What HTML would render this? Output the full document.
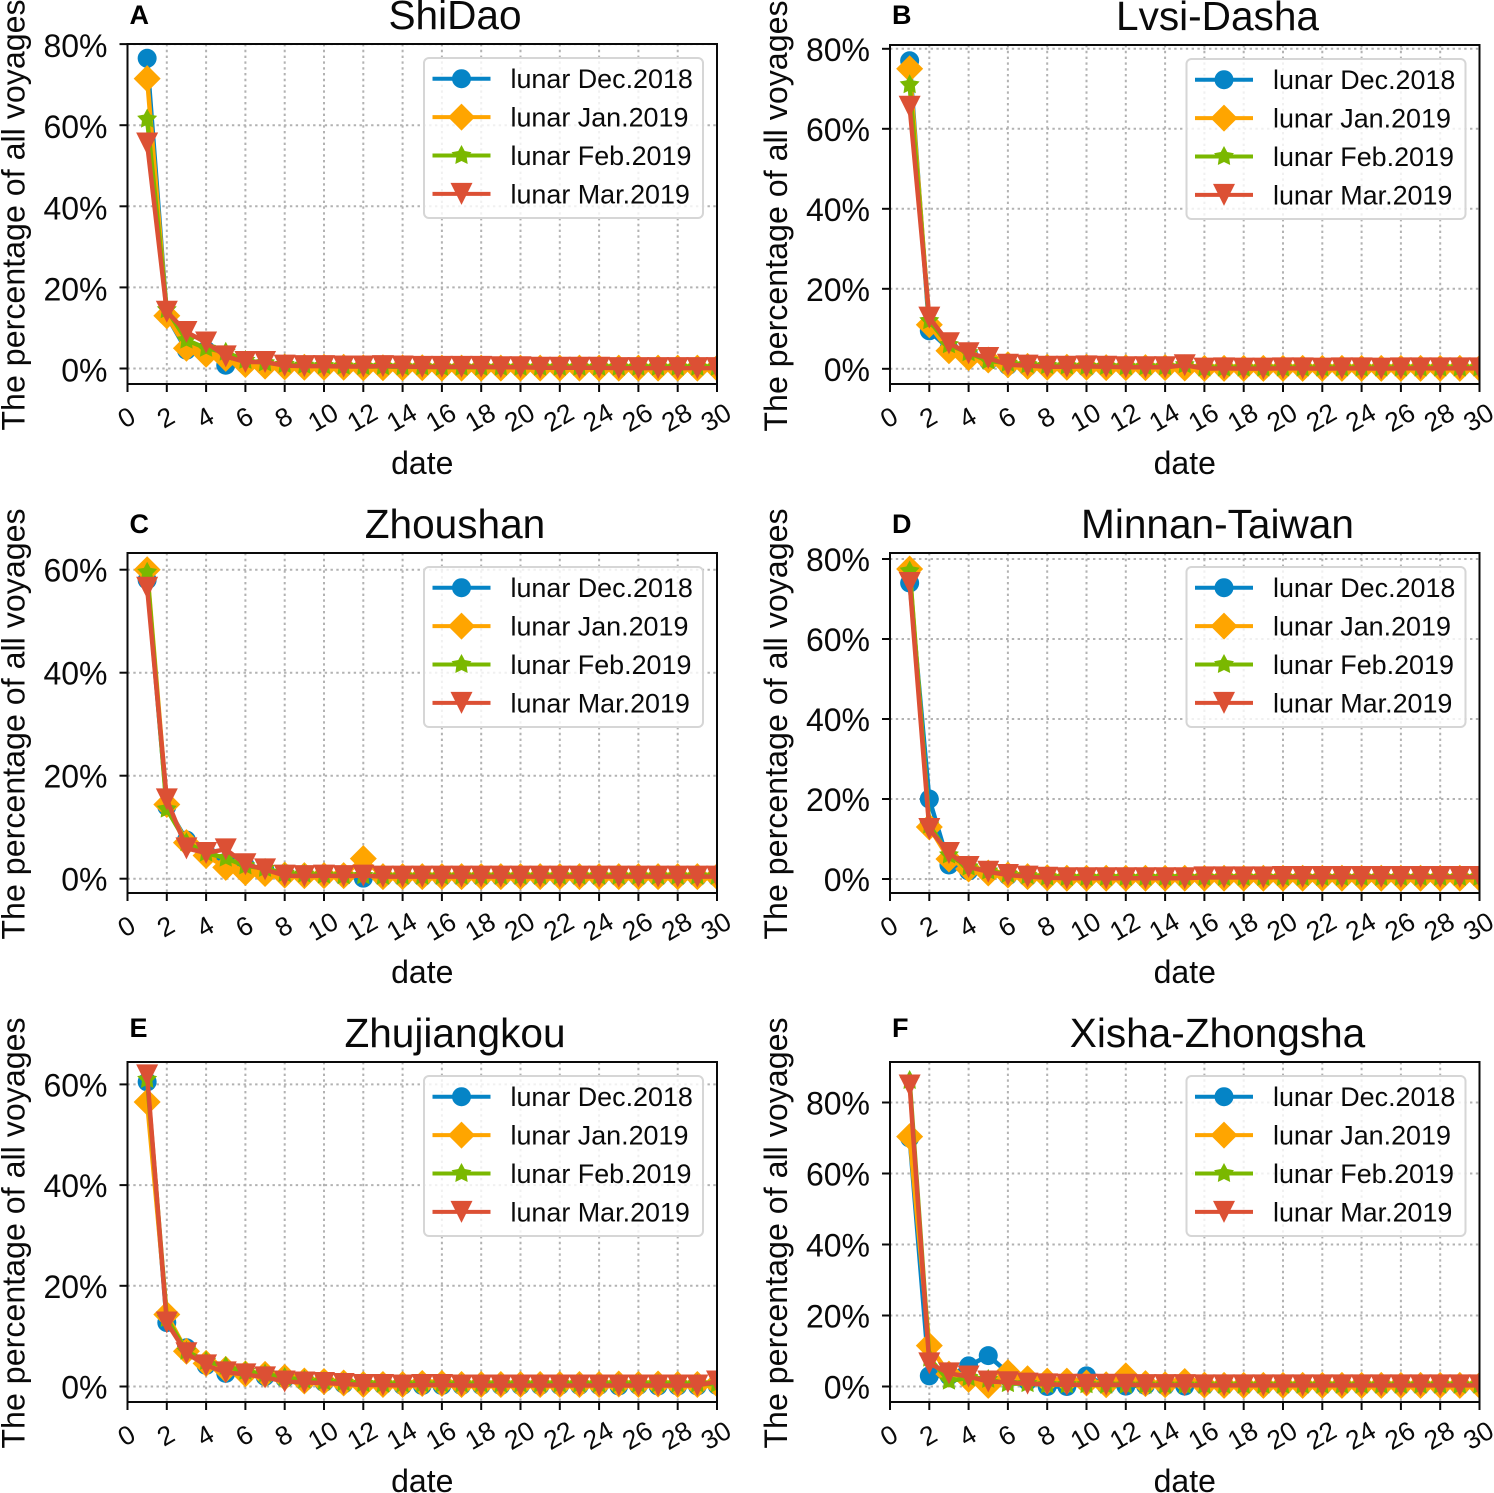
<!DOCTYPE html>
<html lang="en">
<head>
<meta charset="utf-8">
<title>Percentage of voyages by lunar date</title>
<style>
html,body{margin:0;padding:0;background:#fff;width:1494px;height:1493px;overflow:hidden}
svg{display:block;font-family:"Liberation Sans",sans-serif}
</style>
</head>
<body>
<svg id="chart" xmlns="http://www.w3.org/2000/svg" width="1494" height="1493" viewBox="0 0 1494 1493"></svg>
<script>
const days=[1,2,3,4,5,6,7,8,9,10,11,12,13,14,15,16,17,18,19,20,21,22,23,24,25,26,27,28,29,30];
const xTickLabels=[0,2,4,6,8,10,12,14,16,18,20,22,24,26,28,30];
const seriesNames=["lunar Dec.2018","lunar Jan.2019","lunar Feb.2019","lunar Mar.2019"];

const shidaoTicks=[0,20,40,60,80];
const shidaoDec=[76.5,13,4.5,4.5,0.8,1,0.6,0.4,0.3,0.3,0.3,0.2,0.2,0.2,0.2,0.1,0.1,0.1,0.1,0.1,0.1,0.1,0.1,0.1,0.1,0.1,0.1,0.1,0.1,0.1];
const shidaoJan=[71.5,13,5,3.5,2.5,1,0.6,0.4,0.3,0.3,0.3,0.2,0.2,0.2,0.2,0.1,0.1,0.1,0.1,0.1,0.1,0.1,0.1,0.1,0.1,0.1,0.1,0.1,0.1,0.1];
const shidaoFeb=[61.5,14.5,7,5,4,2,1.4,1,0.8,0.7,0.6,0.5,0.5,0.4,0.4,0.3,0.3,0.3,0.3,0.3,0.3,0.3,0.3,0.3,0.3,0.3,0.3,0.3,0.3,0.3];
const shidaoMar=[55.5,14,9,6.4,3,1.6,1.6,0.7,0.6,0.6,0.5,0.5,0.6,0.5,0.4,0.4,0.4,0.4,0.3,0.3,0.2,0.2,0.2,0.2,0.1,0.1,0.1,0.1,0.1,0.1];

const lvsiTicks=[0,20,40,60,80];
const lvsiDec=[77,9.5,5,3.5,2,0.8,0.5,0.4,0.4,0.3,0.3,0.3,0.3,0.3,0.3,0.1,0.1,0.1,0.1,0.1,0.1,0.1,0.1,0.1,0.1,0.1,0.1,0.1,0.1,0.1];
const lvsiJan=[75,11,4.5,2.8,2.2,1,0.6,0.4,0.4,0.4,0.3,0.3,0.3,0.3,0.2,0.1,0.1,0.1,0.1,0.1,0.1,0.1,0.1,0.1,0.1,0.1,0.1,0.1,0.1,0.1];
const lvsiFeb=[71,12,6,4,2,1.4,1,0.8,0.7,0.6,0.6,0.5,0.5,0.5,1,0.2,0.2,0.2,0.2,0.2,0.2,0.2,0.2,0.2,0.2,0.2,0.2,0.2,0.2,0.2];
const lvsiMar=[65.5,12.8,6.4,3.9,2.7,1,0.8,0.5,0.5,0.6,0.5,0.4,0.4,0.4,0.9,0.05,0.1,0.05,0.05,0.1,0.1,0.05,0.1,0.1,0.05,0.1,0.1,0.1,0.1,0.1];

const zhoushanTicks=[0,20,40,60];
const zhoushanDec=[58,14,7.5,5,3.2,2.5,1.6,1,0.7,0.6,0.5,0.1,0.3,0.3,0.3,0.3,0.3,0.3,0.3,0.3,0.3,0.3,0.3,0.3,0.3,0.3,0.3,0.3,0.3,0.3];
const zhoushanJan=[60,14.4,7,4.5,2.2,1.2,1,0.7,0.6,0.6,0.6,3.9,0.4,0.4,0.4,0.4,0.4,0.4,0.4,0.4,0.4,0.4,0.4,0.4,0.4,0.4,0.4,0.4,0.4,0.4];
const zhoushanFeb=[59.5,13.5,7,5,4,2.5,2,1,0.9,0.7,0.6,0.6,0.5,0.5,0.5,0.5,0.5,0.5,0.5,0.5,0.5,0.5,0.5,0.5,0.5,0.5,0.5,0.5,0.5,0.5];
const zhoushanMar=[56.5,15.4,5.9,5,5.7,2.8,1.8,0.6,0.5,0.6,0.5,0.6,0.4,0.4,0.4,0.4,0.4,0.4,0.4,0.4,0.4,0.4,0.4,0.4,0.4,0.4,0.4,0.4,0.4,0.4];

const minnanTicks=[0,20,40,60,80];
const minnanDec=[74,20,3.5,2,1.5,0.8,0.5,0.3,0.2,0.2,0.2,0.2,0.2,0.2,0.2,0.2,0.2,0.2,0.2,0.2,0.2,0.2,0.2,0.2,0.2,0.2,0.2,0.2,0.2,0.2];
const minnanJan=[77.5,13,5,2.5,1.5,1,0.6,0.3,0.2,0.2,0.2,0.2,0.2,0.2,0.2,0.2,0.2,0.2,0.2,0.2,0.2,0.2,0.2,0.2,0.2,0.2,0.2,0.2,0.2,0.2];
const minnanFeb=[77,13.5,6,3,2,1.2,0.8,0.5,0.4,0.4,0.4,0.4,0.4,0.4,0.4,0.4,0.4,0.4,0.4,0.4,0.4,0.4,0.4,0.4,0.4,0.4,0.4,0.4,0.4,0.4];
const minnanMar=[74,12.5,6.5,3,1.8,1,0.6,0.3,0.2,0.2,0.2,0.2,0.2,0.2,0.2,0.4,0.4,0.4,0.4,0.5,0.5,0.5,0.5,0.5,0.5,0.5,0.5,0.5,0.5,0.5];

const zhujiangkouTicks=[0,20,40,60];
const zhujiangkouDec=[60.5,12.7,7.7,4.2,2.6,2.6,2,1.6,1,0.8,0.5,0.4,0.3,0.2,0.2,0.2,0.2,0.2,0.2,0.2,0.2,0.2,0.2,0.2,0.1,0.2,0.1,0.1,0.1,0.2];
const zhujiangkouJan=[56.5,14.3,7,4.6,3.4,2.5,2.4,1.8,1.1,1,0.7,0.4,0.4,0.4,0.6,0.6,0.4,0.4,0.4,0.4,0.4,0.4,0.4,0.4,0.5,0.4,0.5,0.4,0.4,0.5];
const zhujiangkouFeb=[61,13.5,7,5,4,3,2.5,1.8,1.3,1,0.8,0.6,0.5,0.5,0.5,0.5,0.5,0.5,0.5,0.5,0.5,0.5,0.5,0.5,0.5,0.5,0.5,0.5,0.5,0.5];
const zhujiangkouMar=[61.8,12.7,6.6,4.2,2.8,2.4,1.8,1,0.8,0.7,0.5,0.3,0.3,0.2,0.3,0.3,0.2,0.2,0.2,0.2,0.2,0.2,0.2,0.2,0.2,0.2,0.2,0.2,0.2,1];

const xishaTicks=[0,20,40,60,80];
const xishaDec=[70,3,3,5.8,8.7,3.9,1.5,0,0,3,0.3,0.1,0.3,0.2,0.1,0.2,0.2,0.2,0.2,0.2,0.2,0.2,0.2,0.2,0.2,0.2,0.2,0.2,0.2,0.2];
const xishaJan=[70.4,11.5,3.5,2,0.3,3.9,2.2,1.5,1.5,1,0.5,3,0.8,0.5,1.4,0.4,0.3,0.3,0.3,0.3,0.3,0.3,0.3,0.3,0.3,0.3,0.3,0.3,0.3,0.3];
const xishaFeb=[86.2,8,1.5,2.5,2,0.8,0.8,0.5,0.5,0.5,0.4,0.4,0.4,0.4,0.4,0.4,0.4,0.4,0.4,0.4,0.4,0.4,0.4,0.4,0.4,0.4,0.4,0.4,0.4,0.4];
const xishaMar=[84.8,6.5,3.7,2.8,1.4,1.2,0.8,0.6,0.5,0.5,0.5,0.5,0.4,0.4,0.4,0.3,0.3,0.3,0.3,0.3,0.3,0.3,0.3,0.3,0.3,0.3,0.3,0.3,0.3,0.3];

const panels=[
 {key:"shidao",letter:"A",title:"ShiDao",left:127.5,top:44,zero:368.5,per20:81.1,labelDy:13,letterDy:20,ticks:shidaoTicks,series:[shidaoDec,shidaoJan,shidaoFeb,shidaoMar]},
 {key:"lvsi-dasha",letter:"B",title:"Lvsi-Dasha",left:890,top:45,zero:368.8,per20:80,labelDy:12,letterDy:21,ticks:lvsiTicks,series:[lvsiDec,lvsiJan,lvsiFeb,lvsiMar]},
 {key:"zhoushan",letter:"C",title:"Zhoushan",left:127.5,top:553,zero:878.7,per20:103,labelDy:12,letterDy:20,ticks:zhoushanTicks,series:[zhoushanDec,zhoushanJan,zhoushanFeb,zhoushanMar]},
 {key:"minnan-taiwan",letter:"D",title:"Minnan-Taiwan",left:890,top:553,zero:879,per20:80,labelDy:12,letterDy:20,ticks:minnanTicks,series:[minnanDec,minnanJan,minnanFeb,minnanMar]},
 {key:"zhujiangkou",letter:"E",title:"Zhujiangkou",left:127.5,top:1062,zero:1386.5,per20:100.7,labelDy:12,letterDy:25,ticks:zhujiangkouTicks,series:[zhujiangkouDec,zhujiangkouJan,zhujiangkouFeb,zhujiangkouMar]},
 {key:"xisha-zhongsha",letter:"F",title:"Xisha-Zhongsha",left:890,top:1062,zero:1386.5,per20:71,labelDy:12,letterDy:25,ticks:xishaTicks,series:[xishaDec,xishaJan,xishaFeb,xishaMar]}
];
const colors=["#0584c6","#ffa500","#7ab800","#dc5034"];
const NS="http://www.w3.org/2000/svg";
const W=589.5,H=340;

function mk(parent,tag,attrs,text){
  const el=document.createElementNS(NS,tag);
  for(const k in attrs){el.setAttribute(k,attrs[k]);}
  if(text!==undefined){el.textContent=text;}
  parent.appendChild(el);
  return el;
}
function drawMarker(g,i,cx,cy){
  const c=colors[i];
  let m;
  if(i===0){
    m=mk(g,"circle",{cx:cx,cy:cy,r:9.5,fill:c});
  }else if(i===1){
    m=mk(g,"polygon",{points:[cx,cy-13.5,cx+13.5,cy,cx,cy+13.5,cx-13.5,cy].join(" "),fill:c});
  }else if(i===2){
    const pts=[];
    for(let k=0;k<10;k++){
      const r=k%2===0?10.5:5.5;
      const a=-Math.PI/2+k*Math.PI/5;
      pts.push(cx+r*Math.cos(a),cy+r*Math.sin(a));
    }
    m=mk(g,"polygon",{points:pts.join(" "),fill:c});
  }else{
    m=mk(g,"polygon",{points:[cx-11,cy-11,cx+11,cy-11,cx,cy+11].join(" "),fill:c});
  }
  return m;
}
const root=document.getElementById("chart");
panels.forEach(function(p,pi){
  const x=function(v){return p.left+v*W/30;};
  const y=function(v){return p.zero-v*p.per20/20;};
  const bottom=p.top+H-(p.top===45?1:0);
  const panel=mk(root,"g",{});
  
  

  const defs=mk(panel,"defs",{});
  const clip=mk(defs,"clipPath",{id:"clip"+pi});
  mk(clip,"rect",{x:p.left,y:p.top,width:W,height:bottom-p.top});

  const grid=mk(panel,"g",{stroke:"#b2b2b2","stroke-width":2,"stroke-dasharray":"2.4 3.4",fill:"none"});
  
  
  xTickLabels.forEach(function(t){mk(grid,"line",{x1:x(t),x2:x(t),y1:p.top,y2:bottom});});
  p.ticks.forEach(function(t){mk(grid,"line",{x1:p.left,x2:p.left+W,y1:y(t),y2:y(t)});});

  const plot=mk(panel,"g",{"clip-path":"url(#clip"+pi+")"});
  
  
  p.series.forEach(function(vals,si){
    const g=mk(plot,"g",{});
    
    
    const pts=days.map(function(d,i){return x(d)+","+y(vals[i]);}).join(" ");
    mk(g,"polyline",{points:pts,fill:"none",stroke:colors[si],"stroke-width":4.5,"stroke-linejoin":"round"});
    days.forEach(function(d,i){
      const m=drawMarker(g,si,x(d),y(vals[i]));
      
      
    });
  });

  const frame=mk(panel,"rect",{x:p.left,y:p.top,width:W,height:bottom-p.top,fill:"none",stroke:"#0a0a0a","stroke-width":2});
  
  

  const xAxis=mk(panel,"g",{});
  
  
  xTickLabels.forEach(function(t){
    mk(xAxis,"line",{x1:x(t),x2:x(t),y1:bottom,y2:bottom+8,stroke:"#0a0a0a","stroke-width":2});
    const lx=x(t)-1,ly=bottom+33.5;
    const lab=mk(xAxis,"text",{x:lx,y:ly+9,"text-anchor":"middle","font-size":26.5,fill:"#0a0a0a",transform:"rotate(-30 "+lx+" "+ly+")"},String(t));
    
    
  });
  const xTitle=mk(panel,"text",{x:p.left+W/2,y:bottom+90,"text-anchor":"middle","font-size":32,fill:"#0a0a0a"},"date");
  
  

  const yAxis=mk(panel,"g",{});
  
  
  p.ticks.forEach(function(t){
    mk(yAxis,"line",{x1:p.left-8,x2:p.left,y1:y(t),y2:y(t),stroke:"#0a0a0a","stroke-width":2});
    const lab=mk(yAxis,"text",{x:p.left-20,y:y(t)+p.labelDy,"text-anchor":"end","font-size":32,fill:"#0a0a0a"},t+"%");
    
    
  });
  const yx=p.left-103,yy=p.top+171;
  const yTitle=mk(panel,"text",{x:yx,y:yy,"text-anchor":"middle","font-size":32.2,fill:"#0a0a0a",transform:"rotate(-90 "+yx+" "+yy+")"},"The percentage of all voyages");
  
  

  const titleEl=mk(panel,"text",{x:p.left+327.5,y:p.top-15,"text-anchor":"middle","font-size":40.6,fill:"#0a0a0a"},p.title);
  
  
  const letterEl=mk(panel,"text",{x:p.left+2,y:p.top-p.letterDy,"font-size":27,"font-weight":"bold",fill:"#000"},p.letter);
  
  

  const lg=mk(panel,"g",{});
  
  
  const lx=p.left+296.5,ly=p.top+14;
  mk(lg,"rect",{x:lx,y:ly,width:279,height:160,rx:5,ry:5,fill:"#fff","fill-opacity":0.8,stroke:"#d6d6d6","stroke-width":2});
  seriesNames.forEach(function(name,si){
    const ry=ly+20.7+si*38.4;
    const entry=mk(lg,"g",{});
    
    
    mk(entry,"line",{x1:lx+8.5,x2:lx+66.5,y1:ry,y2:ry,stroke:colors[si],"stroke-width":4});
    drawMarker(entry,si,lx+37.5,ry);
    mk(entry,"text",{x:lx+86.5,y:ry+9.5,"font-size":26.9,fill:"#0a0a0a"},name);
  });
});
</script>
</body>
</html>
